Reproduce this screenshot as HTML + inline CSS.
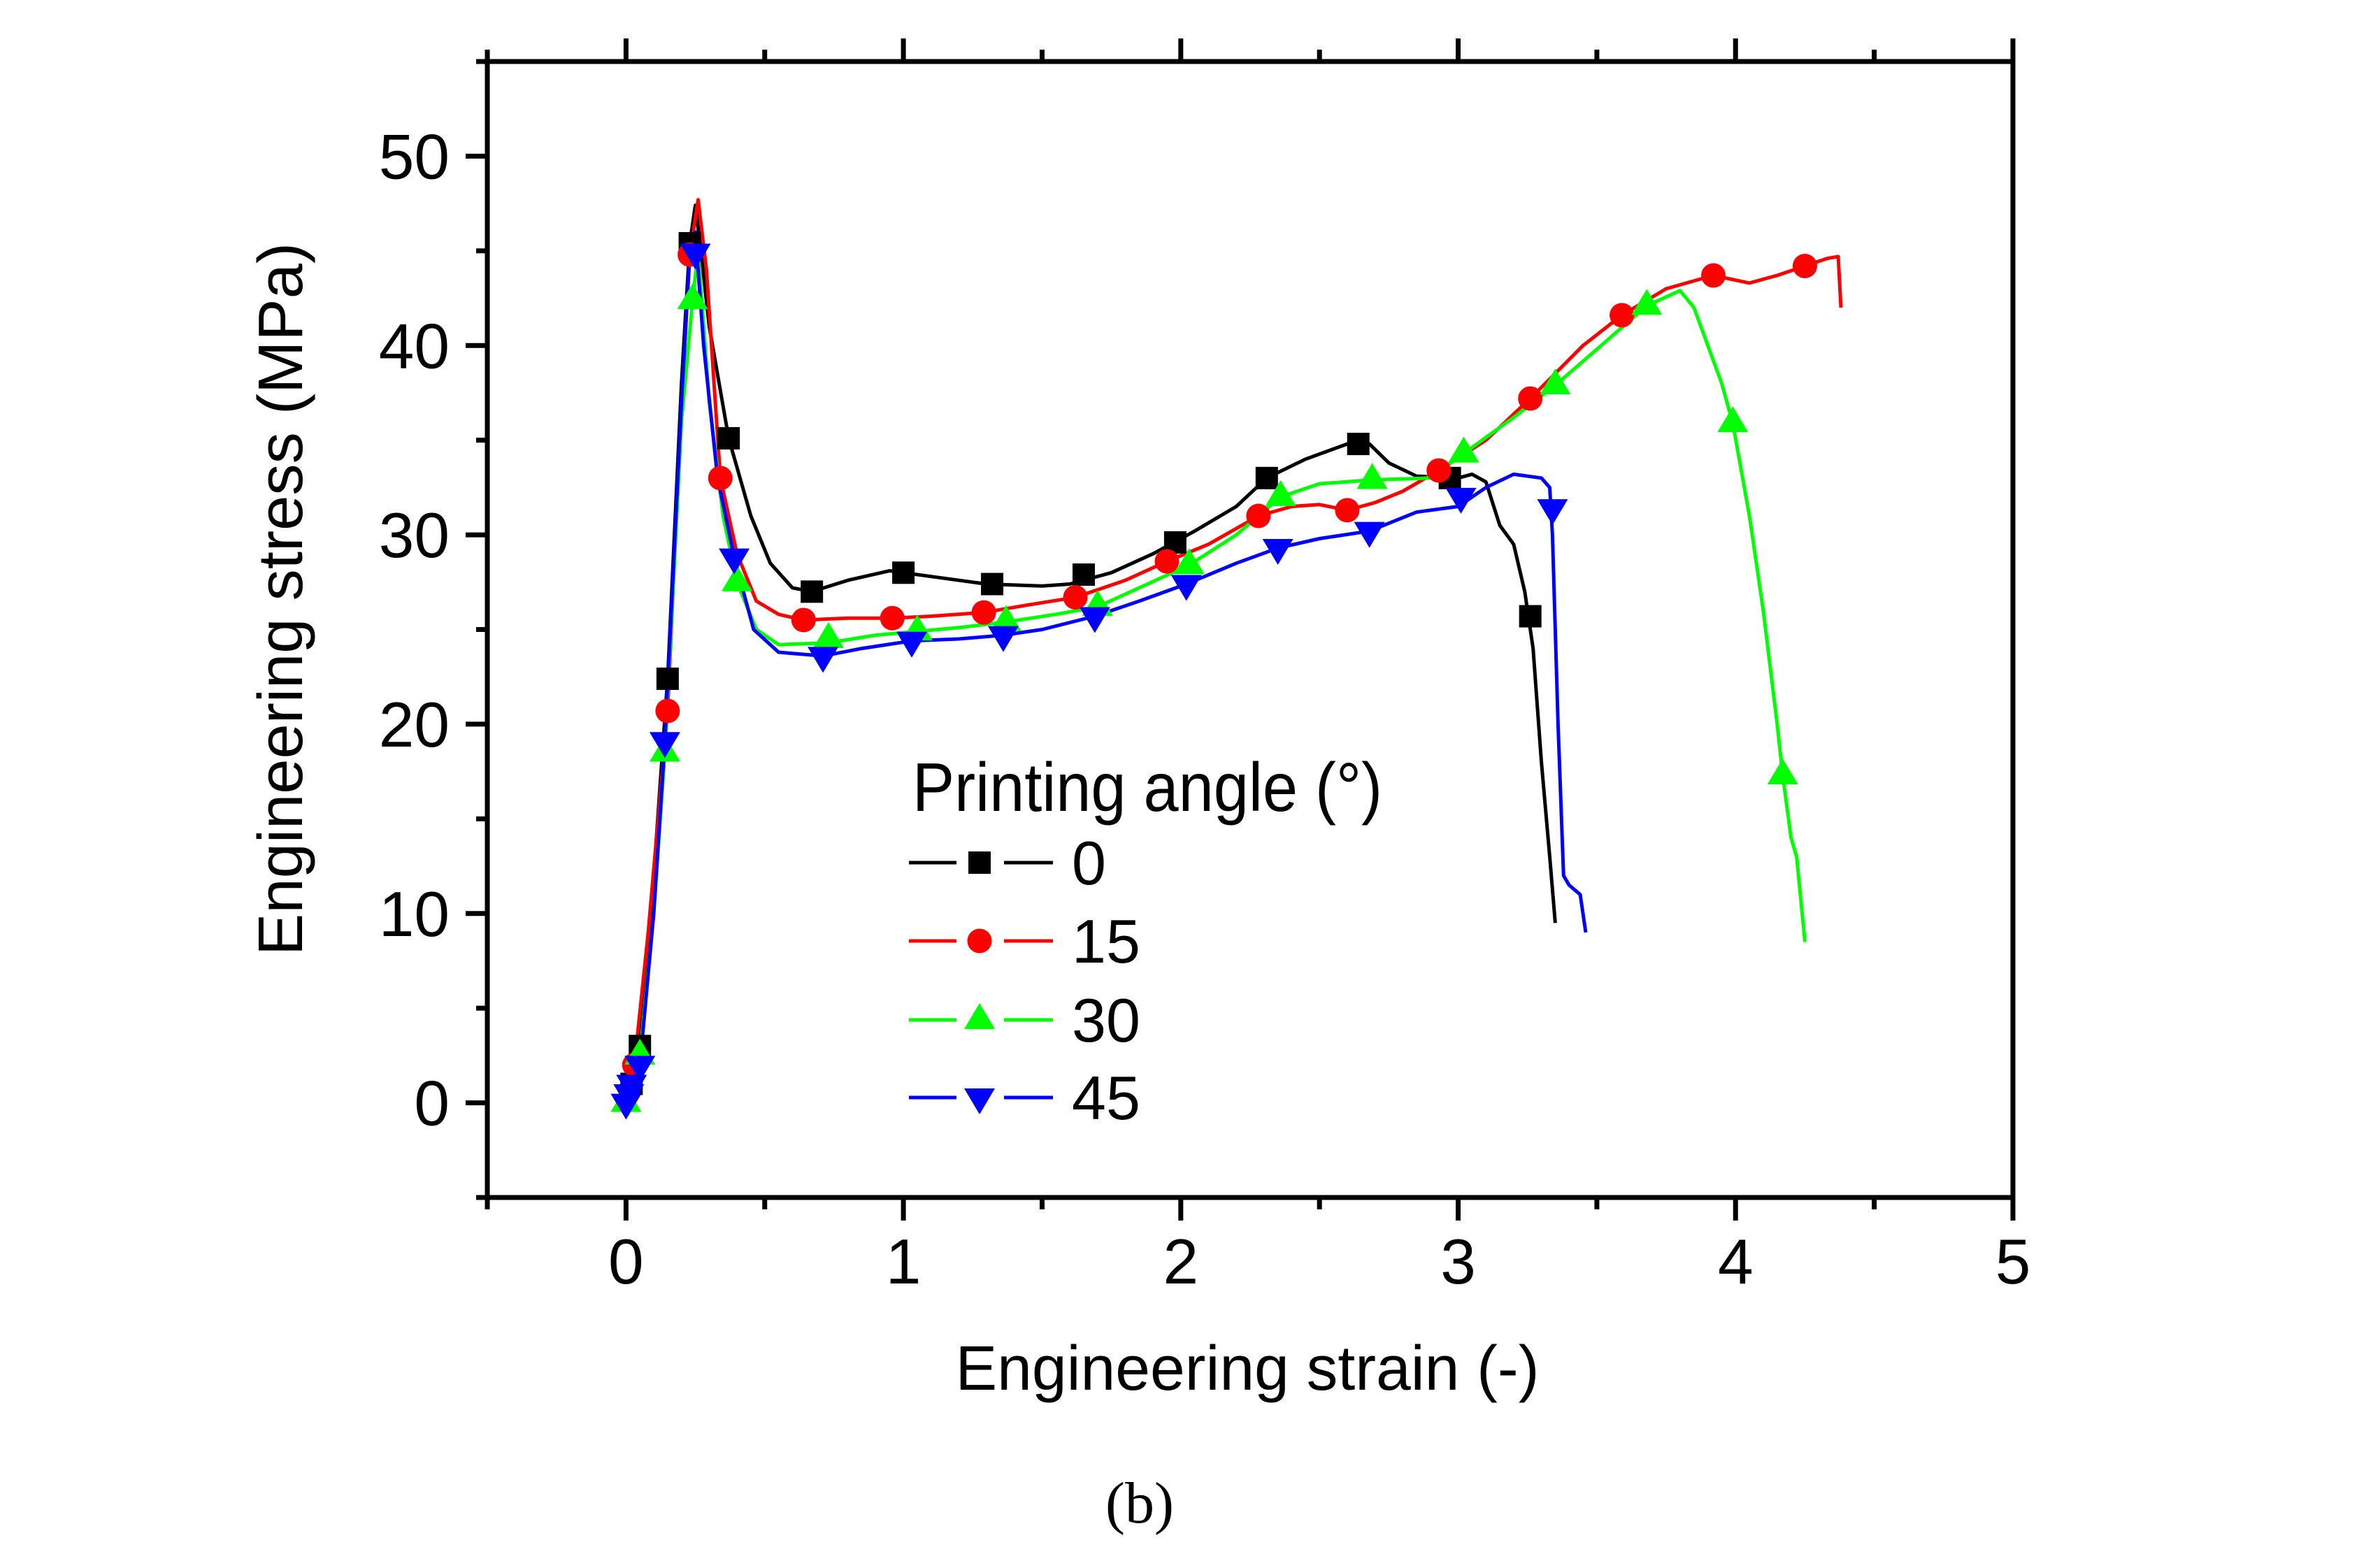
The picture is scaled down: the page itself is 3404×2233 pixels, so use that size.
<!DOCTYPE html>
<html><head><meta charset="utf-8"><style>
html,body{margin:0;padding:0;background:#fff;}
svg{display:block;}
text{font-family:"Liberation Sans",Arial,sans-serif;fill:#000;}
</style></head><body>
<svg id="chart" width="3404" height="2233" viewBox="0 0 3404 2233" xmlns="http://www.w3.org/2000/svg">
<g id="plot"></g>
<g id="axes"></g>
<g id="legend"></g>
<text x="0" y="0" font-size="90" text-anchor="middle" transform="translate(432,857) rotate(-90)" textLength="1020" lengthAdjust="spacingAndGlyphs">Engineering stress (MPa)</text>
<text x="1784" y="1988" font-size="90" text-anchor="middle" textLength="835" lengthAdjust="spacingAndGlyphs">Engineering strain (-)</text>
<text x="1630" y="2178" font-size="84" text-anchor="middle" style="font-family:'Liberation Serif',serif">(b)</text>
</svg>
<script>
// ---- data ----
const xTicks = [0,1,2,3,4,5];
const yTicks = [0,10,20,30,40,50];
const seriesNames = ["0","15","30","45"];
const seriesColors = ["#000000","#ff0000","#00ff00","#0000ff"];
const seriesMarkers = ["square","circle","triangle","triangle-down"];

const curve0X = [0,0.02,0.05,0.1,0.15,0.2,0.23,0.25,0.27,0.3,0.37,0.45,0.52,0.6,0.67,0.8,0.95,1.1,1.3,1.5,1.6,1.75,1.9,2.05,2.2,2.31,2.45,2.6,2.68,2.75,2.85,3.0,3.05,3.1,3.15,3.2,3.24,3.27,3.3,3.33,3.35];
const curve0Y = [0,1,3,12,22.4,38,45.4,47.4,45,41,35.1,31,28.5,27.2,27,27.6,28.1,27.8,27.4,27.3,27.4,28,29,30.2,31.5,33,34,34.8,34.8,33.8,33.1,33,33.2,32.8,30.5,29.5,27,24,18,13,9.5];
const mark0X = [0.02,0.05,0.15,0.23,0.37,0.67,1.0,1.32,1.65,1.98,2.31,2.64,2.97,3.26];
const mark0Y = [1,3,22.4,45.4,35.1,27,28,27.4,27.9,29.6,33,34.8,33,25.7];

const curve1X = [0,0.03,0.08,0.15,0.2,0.23,0.26,0.29,0.34,0.4,0.47,0.55,0.64,0.8,0.96,1.1,1.29,1.45,1.62,1.8,1.95,2.1,2.28,2.4,2.5,2.6,2.7,2.8,2.93,3.1,3.26,3.45,3.59,3.75,3.92,4.05,4.15,4.25,4.33,4.37,4.38];
const curve1Y = [0,2,9,20.7,37,44.8,47.7,44,33,29,26.5,25.8,25.5,25.6,25.6,25.7,25.9,26.3,26.7,27.6,28.6,29.5,31,31.5,31.6,31.3,31.7,32.3,33.4,35,37.2,40,41.6,43,43.7,43.3,43.7,44.2,44.6,44.7,42];
const mark1X = [0.03,0.15,0.23,0.34,0.64,0.96,1.29,1.62,1.95,2.28,2.6,2.93,3.26,3.59,3.92,4.25];
const mark1Y = [2,20.7,44.8,33,25.5,25.6,25.9,26.7,28.6,31,31.3,33.4,37.2,41.6,43.7,44.2];

const curve2X = [0,0.03,0.05,0.1,0.14,0.2,0.24,0.26,0.3,0.35,0.4,0.47,0.55,0.73,0.9,1.05,1.2,1.37,1.55,1.7,1.85,2.03,2.2,2.36,2.5,2.69,2.9,3.02,3.2,3.35,3.5,3.68,3.8,3.85,3.9,3.95,3.99,4.05,4.1,4.15,4.17,4.2,4.22,4.25];
const curve2Y = [0,1.5,2.5,10,18.5,36,42.4,45,37,31,27.5,25,24.2,24.3,24.7,24.9,25.1,25.4,25.8,26.2,27.2,28.4,30,32,32.7,32.9,33,34.3,36.2,37.9,39.8,42.1,42.9,42,40,38,35.9,31,26,20,17.3,14,13,8.5];
const mark2X = [0,0.05,0.14,0.24,0.4,0.73,1.05,1.37,1.7,2.03,2.36,2.69,3.02,3.35,3.68,3.99,4.17];
const mark2Y = [0,2.5,18.5,42.4,27.5,24.5,24.9,25.4,26.2,28.4,32,32.9,34.3,37.9,42.1,35.9,17.3];

const curve3X = [0,0.02,0.05,0.1,0.14,0.2,0.23,0.25,0.28,0.33,0.39,0.46,0.55,0.71,0.85,1.03,1.2,1.36,1.5,1.69,1.85,2.02,2.2,2.35,2.5,2.68,2.85,3.0,3.1,3.2,3.3,3.33,3.34,3.36,3.38,3.4,3.44,3.46];
const curve3Y = [0,1,2,10,19.1,37,44.9,46,40,33,28.8,25,23.8,23.6,24,24.4,24.5,24.7,25,25.7,26.5,27.4,28.5,29.3,29.8,30.2,31.2,31.5,32.5,33.2,33,32.5,30,20,12,11.5,11,9];
const mark3X = [0,0.01,0.02,0.05,0.14,0.25,0.39,0.71,1.03,1.36,1.69,2.02,2.35,2.68,3.01,3.34];
const mark3Y = [0,0.5,1,2,19.1,44.9,28.8,23.6,24.4,24.7,25.7,27.4,29.3,30.2,32,31.4];

const curvesX = [curve0X,curve1X,curve2X,curve3X];
const curvesY = [curve0Y,curve1Y,curve2Y,curve3Y];
const marksX = [mark0X,mark1X,mark2X,mark3X];
const marksY = [mark0Y,mark1Y,mark2Y,mark3Y];

// ---- layout ----
const L=697,R=2879,T=88,B=1713;
const xMin=-0.5,xMax=5,yMin=-5,yMax=55;
function sx(v){return L+(v-xMin)/(xMax-xMin)*(R-L);}
function sy(v){return B-(v-yMin)/(yMax-yMin)*(B-T);}
const NS="http://www.w3.org/2000/svg";
function mk(tag,attrs,parent){const e=document.createElementNS(NS,tag);for(const k in attrs)e.setAttribute(k,attrs[k]);parent.appendChild(e);return e;}

function marker(type,cx,cy,color,parent){
  let e;
  if(type==="square"){e=mk("rect",{x:cx-16,y:cy-16,width:32,height:32,fill:color},parent);}
  else if(type==="circle"){e=mk("circle",{cx:cx,cy:cy,r:17.5,fill:color},parent);}
  else if(type==="triangle"){e=mk("polygon",{points:`${cx},${cy-24} ${cx-22},${cy+13} ${cx+22},${cy+13}`,fill:color},parent);}
  else {e=mk("polygon",{points:`${cx},${cy+24} ${cx-22},${cy-13} ${cx+22},${cy-13}`,fill:color},parent);}
  return e;
}

const plot=document.getElementById("plot");
for(let s=0;s<4;s++){
  const g=mk("g",{},plot);
  
  
  const pts=curvesX[s].map((x,i)=>sx(x).toFixed(1)+","+sy(curvesY[s][i]).toFixed(1)).join(" ");
  const pl=mk("polyline",{points:pts,fill:"none",stroke:seriesColors[s],"stroke-width":5,"stroke-linejoin":"round"},g);
  
  
}
for(let s=0;s<4;s++){
  for(let i=0;i<marksX[s].length;i++){
    const m=marker(seriesMarkers[s],sx(marksX[s][i]),sy(marksY[s][i]),seriesColors[s],plot);
    
    
  }
}

// ---- axes ----
const ax=document.getElementById("axes");
const frame=mk("rect",{x:L,y:T,width:R-L,height:B-T,fill:"none",stroke:"#000","stroke-width":7},ax);


for(let v=-0.5;v<=5.001;v+=0.5){
  const major=Math.abs(v-Math.round(v))<1e-6;
  const len=major?33:17;
  const x=sx(v);
  mk("line",{x1:x,y1:B,x2:x,y2:B+len,stroke:"#000","stroke-width":7},ax);
  mk("line",{x1:x,y1:T,x2:x,y2:T-len,stroke:"#000","stroke-width":7},ax);
}
for(let v=-5;v<=55;v+=5){
  const major=v%10===0;
  const len=major?31:16;
  const y=sy(v);
  mk("line",{x1:L,y1:y,x2:L-len,y2:y,stroke:"#000","stroke-width":7},ax);
}
xTicks.forEach(v=>{
  const t=mk("text",{x:sx(v),y:1836,"font-size":91,"text-anchor":"middle"},ax);
  t.textContent=v;
  
  
});
yTicks.forEach(v=>{
  const t=mk("text",{x:643,y:sy(v)+32,"font-size":91,"text-anchor":"end"},ax);
  t.textContent=v;
  
  
});

// ---- legend ----
const lg=document.getElementById("legend");
const lt=mk("text",{x:1305,y:1160,"font-size":98,textLength:672,lengthAdjust:"spacingAndGlyphs"},lg);
lt.textContent="Printing angle (°)";


const rowY=[1234,1346,1459,1570];
for(let s=0;s<4;s++){
  const g=mk("g",{},lg);
  
  
  const y=rowY[s];
  mk("line",{x1:1300,y1:y,x2:1368,y2:y,stroke:seriesColors[s],"stroke-width":5},g);
  mk("line",{x1:1436,y1:y,x2:1506,y2:y,stroke:seriesColors[s],"stroke-width":5},g);
  marker(seriesMarkers[s],1401,y,seriesColors[s],g);
  const t=mk("text",{x:1533,y:y+31,"font-size":88},g);
  t.textContent=seriesNames[s];
}
</script>
</body></html>
